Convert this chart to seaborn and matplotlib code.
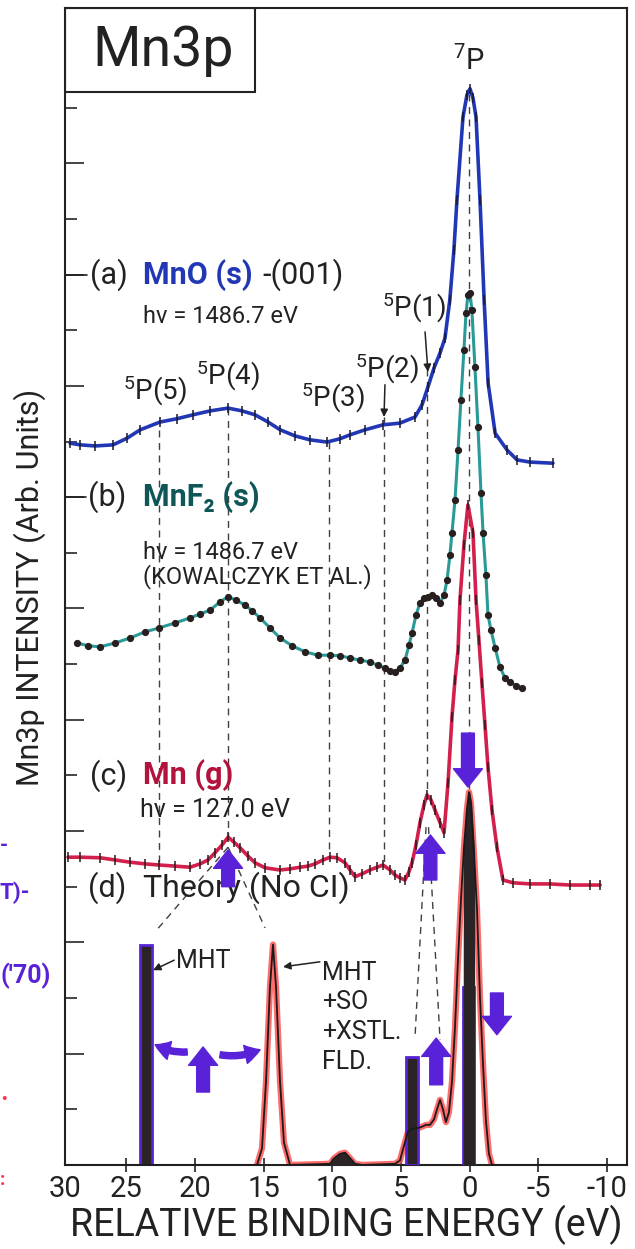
import matplotlib
matplotlib.use("Agg")
import matplotlib.pyplot as plt
import numpy as np
import seaborn as sns
from matplotlib.patches import Rectangle

sns.set_theme(style="ticks")
plt.rcParams['font.family'] = ['Roboto', 'DejaVu Sans']
plt.rcParams['mathtext.default'] = 'regular'

# (a) MnO(s)-(001), hv = 1486.7 eV
mno_ev = [29.08, 28.35, 27.26, 25.95, 24.93, 23.98, 22.53, 21.29, 20.13, 18.89,
          17.58, 16.56, 15.62, 14.67, 13.79, 12.70, 11.62, 10.38, 9.43, 8.70,
          7.61, 6.30, 5.07, 3.97, 3.46, 3.03, 2.59, 2.15, 1.79, 1.44,
          1.14, 0.92, 0.48, 0.19, -0.03, -0.25, -0.47, -0.76, -1.06, -1.35,
          -1.86, -2.72, -3.45, -4.40, -6.07]
mno_int = [12.97, 12.94, 12.92, 12.94, 13.06, 13.21, 13.35, 13.41, 13.48, 13.55,
           13.60, 13.55, 13.48, 13.35, 13.21, 13.10, 13.03, 12.99, 13.05, 13.12,
           13.21, 13.30, 13.33, 13.44, 13.66, 13.98, 14.32, 14.59, 14.86, 15.54,
           16.44, 17.34, 18.83, 19.23, 19.34, 19.17, 18.83, 17.34, 15.54, 14.05,
           13.15, 12.85, 12.67, 12.63, 12.61]

# (b) MnF2(s), hv = 1486.7 eV (Kowalczyk et al.)
mnf2_ev = [28.57, 27.77, 26.90, 25.80, 24.71, 23.62, 22.60, 21.44, 20.35, 19.62,
           18.89, 18.16, 17.58, 17.00, 16.34, 15.84, 15.25, 14.53, 13.80, 12.92,
           11.98, 11.03, 10.16, 9.43, 8.70, 7.98, 7.25, 6.67, 6.16, 5.79,
           5.43, 5.07, 4.70, 4.41, 4.19, 3.90, 3.61, 3.32, 3.03, 2.74,
           2.45, 2.15, 1.86, 1.64, 1.43, 1.28, 1.06, 0.84, 0.63, 0.41,
           0.26, 0.12, -0.03, -0.17, -0.39, -0.61, -0.83, -0.98, -1.19, -1.34,
           -1.56, -1.86, -2.21, -2.58, -2.95, -3.38, -3.81]
mnf2_int = [9.38, 9.33, 9.31, 9.38, 9.47, 9.58, 9.65, 9.74, 9.83, 9.90,
            9.97, 10.12, 10.21, 10.15, 10.06, 9.96, 9.83, 9.65, 9.47, 9.33,
            9.22, 9.16, 9.16, 9.15, 9.11, 9.07, 9.04, 8.98, 8.93, 8.88,
            8.86, 8.93, 9.07, 9.34, 9.56, 9.88, 10.10, 10.19, 10.21, 10.24,
            10.19, 10.10, 10.24, 10.51, 10.96, 11.36, 11.95, 12.85, 13.75, 14.65,
            15.31, 15.63, 15.67, 15.36, 14.34, 13.26, 12.08, 11.36, 10.60, 9.88,
            9.61, 9.29, 8.95, 8.75, 8.68, 8.61, 8.57]

# (c) Mn(g), hv = 127.0 eV
mng_ev = [29.23, 28.35, 26.90, 25.80, 24.71, 23.62, 22.60, 21.44, 20.35, 19.62,
          19.04, 18.53, 18.02, 17.58, 17.15, 16.71, 16.13, 15.62, 14.89, 13.80,
          13.07, 12.34, 11.76, 11.25, 10.67, 10.16, 9.65, 9.07, 8.70, 8.34,
          7.83, 7.25, 6.74, 6.30, 5.79, 5.43, 5.07, 4.70, 4.41, 4.19,
          3.90, 3.61, 3.32, 3.10, 2.81, 2.52, 2.15, 1.86, 1.57, 1.28,
          1.06, 0.84, 0.70, 0.41, 0.12, -0.25, -0.47, -0.68, -0.90, -1.12,
          -1.34, -1.63, -1.99, -2.43, -3.17, -4.40, -5.86, -7.31, -8.76, -9.50]
mng_int = [5.53, 5.53, 5.52, 5.48, 5.44, 5.41, 5.39, 5.37, 5.35, 5.41,
           5.48, 5.61, 5.75, 5.89, 5.80, 5.70, 5.55, 5.43, 5.34, 5.30,
           5.32, 5.35, 5.37, 5.41, 5.48, 5.53, 5.52, 5.43, 5.30, 5.18,
           5.23, 5.30, 5.35, 5.39, 5.30, 5.21, 5.16, 5.12, 5.27, 5.43,
           5.75, 6.15, 6.47, 6.65, 6.56, 6.38, 6.15, 5.97, 6.86, 8.05,
           8.72, 9.25, 10.15, 11.14, 11.86, 11.36, 10.15, 9.43, 8.66, 7.91,
           7.15, 6.38, 5.71, 5.12, 5.07, 5.05, 5.05, 5.03, 5.03, 5.03]

# (d) Theory (No CI): MHT+SO+XSTL. FLD. spectrum
theory_ev = [29.45, 15.47, 15.11, 14.82, 14.53, 14.31, 14.09, 13.80, 13.51, 13.07,
             10.16, 9.86, 9.43, 9.07, 8.70, 8.34, 7.83, 5.43, 5.07, 4.77,
             4.48, 4.19, 3.83, 3.54, 3.17, 2.88, 2.59, 2.37, 2.15, 1.94,
             1.72, 1.50, 1.28, 1.06, 0.84, 0.63, 0.41, 0.19, 0.04, -0.10,
             -0.32, -0.54, -0.76, -0.98, -1.19, -1.41, -1.63, -11.46]
theory_int = [0, 0, 0.3, 1.5, 3.2, 3.96, 3.2, 1.5, 0.4, 0,
              0.02, 0.12, 0.2, 0.22, 0.12, 0.02, 0, 0.02, 0.08, 0.35,
              0.6, 0.65, 0.66, 0.68, 0.72, 0.72, 0.82, 1.0, 1.17, 1.0,
              0.77, 0.95, 1.5, 2.48, 3.7, 4.75, 5.7, 6.4, 6.7, 6.5,
              5.6, 4.6, 3.0, 1.8, 0.8, 0.2, 0, 0]

# MHT multiplet lines (bars)
mht_ev = [23.55, 4.19, 0.08]
mht_int = [3.95, 1.94, 3.2]

# peak assignments (dashed guide lines)
p5_labels = ["(5)", "(4)", "(3)", "(2)", "(1)"]
p5_ev = [22.60, 17.58, 10.23, 6.23, 3.10]

xtick_pos = [29.45, 25, 20, 15, 10, 5, 0, -5, -10]
xtick_lab = ["30", "25", "20", "15", "10", "5", "0", "-5", "-10"]

BLUE = "#2237b5"
TEAL = "#2a9a98"
TEAL_TXT = "#0f5656"
CRIMSON = "#d21f4c"
CRIMSON_TXT = "#b3123c"
SALMON = "#ff5252"
DARK = "#2a2426"
PURPLE = "#5a22d8"
INK = "#222222"

fig = plt.figure(figsize=(6.35, 12.49), dpi=100)
ax = fig.add_axes([0.1024, 0.0673, 0.8850, 0.9263])
ax.set_xlim(29.45, -11.46)
ax.set_ylim(0, 20.79)

# dashed guide lines
dash = dict(color="0.25", lw=1.0, ls=(0, (5, 4)), zorder=1)
ax.plot([0.05, 0.05], [19.25, 6.75], **dash)
ax.plot([p5_ev[4]] * 2, [14.30, 6.65], **dash)
ax.plot([3.17, 3.97], [6.07, 2.30], **dash)
ax.plot([2.99, 2.15], [6.07, 2.25], **dash)
ax.plot([p5_ev[3]] * 2, [13.44, 5.43], **dash)
ax.plot([p5_ev[2]] * 2, [12.99, 5.61], **dash)
ax.plot([p5_ev[1]] * 2, [13.60, 5.89], **dash)
ax.plot([17.58, 22.89], [5.71, 4.19], **dash)
ax.plot([17.58, 14.89], [5.71, 4.26], **dash)
ax.plot([p5_ev[0]] * 2, [13.21, 5.43], **dash)

# theory (d)
ax.bar(mht_ev, mht_int, width=0.85, color=DARK, edgecolor=PURPLE, linewidth=2, zorder=3)
tev = np.array(theory_ev)
tin = np.array(theory_int)
ax.fill_between(tev, 0, tin, where=np.abs(tev - 0.05) < 0.45, color=DARK, zorder=3)
ax.fill_between(tev, 0, tin, where=(tev < 10.3) & (tev > 8.2), color=DARK, zorder=3)
# red highlight only over the peaks, not along the baseline
near_peak = (tin > 0) | (np.roll(tin, 1) > 0) | (np.roll(tin, -1) > 0)
red_y = np.where(near_peak, tin, np.nan)
ax.plot(tev, red_y, color=SALMON, lw=4.5, alpha=0.85, zorder=2)
sns.lineplot(x=theory_ev, y=theory_int, sort=False, color="k", lw=1.3, ax=ax, zorder=4)

# measured spectra
sns.lineplot(x=mno_ev, y=mno_int, sort=False, color=BLUE, lw=2.6, ax=ax, zorder=5)
ax.plot(mno_ev, mno_int, ls="none", marker="|", ms=7, mew=1.1, color="#1a1a2a", zorder=6)
sns.lineplot(x=mnf2_ev, y=mnf2_int, sort=False, color=TEAL, lw=2.2, ax=ax, zorder=5)
ax.plot(mnf2_ev, mnf2_int, ls="none", marker="o", ms=4.2, color="#2a1f1f", zorder=6)
sns.lineplot(x=mng_ev, y=mng_int, sort=False, color=CRIMSON, lw=2.6, ax=ax, zorder=5)
ax.plot(mng_ev, mng_int, ls="none", marker="|", ms=7, mew=1.1, color="#2a1a1a", zorder=6)

# purple hand-drawn arrows
def purple_arrow(x0, y0, x1, y1, thin=False, rad=0.0):
    if thin:
        style = "simple,head_length=0.5,head_width=0.6,tail_width=0.2"
    else:
        style = "simple,head_length=0.6,head_width=0.95,tail_width=0.42"
    ax.annotate("", xy=(x1, y1), xytext=(x0, y0),
                arrowprops=dict(arrowstyle=style, color=PURPLE, shrinkA=0, shrinkB=0,
                                mutation_scale=22, connectionstyle=f"arc3,rad={rad}"),
                zorder=7)

purple_arrow(0.12, 7.76, 0.12, 6.79)
purple_arrow(2.85, 5.12, 2.85, 5.93)
purple_arrow(17.58, 5.00, 17.58, 5.66)
purple_arrow(19.4, 1.31, 19.4, 2.12)
purple_arrow(20.56, 2.03, 22.89, 2.16, thin=True, rad=-0.15)
purple_arrow(18.16, 1.98, 15.25, 2.07, thin=True, rad=0.15)
purple_arrow(2.43, 1.44, 2.43, 2.28)
purple_arrow(-1.99, 3.09, -1.99, 2.34)

# black pointer arrows
def pointer(x0, y0, x1, y1):
    ax.annotate("", xy=(x1, y1), xytext=(x0, y0),
                arrowprops=dict(arrowstyle="-|>", color=INK, lw=1.1, shrinkA=0, shrinkB=0,
                                mutation_scale=11))

pointer(3.24, 14.97, 3.03, 14.25)
pointer(6.16, 14.02, 6.23, 13.44)
pointer(21.5, 3.68, 23.04, 3.50)
pointer(10.9, 3.65, 13.58, 3.56)

# text labels
ax.text(0.05, 19.85, "$^{7}$P", fontsize=21, ha="center", va="center", color=INK)
p5_text_xy = [(22.89, 13.91), (17.58, 14.18), (9.94, 13.78), (6.01, 14.30), (4.05, 15.40)]
for lab, (tx, ty) in zip(p5_labels, p5_text_xy):
    ax.text(tx, ty, "$^{5}$P" + lab, fontsize=20, ha="center", va="center", color=INK)

ax.plot([29.45, 27.85], [16, 16], color=INK, lw=1.2, clip_on=False)
ax.text(27.63, 16.0, "(a)", fontsize=22, ha="left", va="center", color=INK)
ax.text(23.76, 16.0, "MnO (s)", fontsize=22, ha="left", va="center", color=BLUE, fontweight="bold")
ax.text(15.11, 16.0, "-(001)", fontsize=22, ha="left", va="center", color=INK)
ax.text(23.76, 15.24, "hν = 1486.7 eV", fontsize=17, ha="left", va="center", color=INK)

ax.plot([29.45, 27.95], [12, 12], color=INK, lw=1.2, clip_on=False)
ax.text(27.77, 12.0, "(b)", fontsize=22, ha="left", va="center", color=INK)
ax.text(23.76, 12.0, "MnF₂ (s)", fontsize=22, ha="left", va="center", color=TEAL_TXT, fontweight="bold")
ax.text(23.76, 11.0, "hν = 1486.7 eV", fontsize=17, ha="left", va="center", color=INK)
ax.text(23.76, 10.58, "(KOWALCZYK ET AL.)", fontsize=17, ha="left", va="center", color=INK)

ax.text(27.63, 7.0, "(c)", fontsize=22, ha="left", va="center", color=INK)
ax.text(23.76, 7.0, "Mn (g)", fontsize=22, ha="left", va="center", color=CRIMSON_TXT, fontweight="bold")
ax.text(23.98, 6.38, "hν = 127.0 eV", fontsize=18, ha="left", va="center", color=INK)

ax.text(27.77, 4.98, "(d)", fontsize=22, ha="left", va="center", color=INK)
ax.text(23.76, 4.98, "Theory (No CI)", fontsize=23, ha="left", va="center", color=INK)

ax.text(21.4, 3.66, "MHT", fontsize=18, ha="left", va="center", color=INK)
ax.text(10.74, 3.67, "MHT\n+SO\n+XSTL.\nFLD.", fontsize=18, ha="left", va="top",
        color=INK, linespacing=1.3)

# title box
ax.add_patch(Rectangle((0, 0.927), 0.338, 0.073, transform=ax.transAxes, fill=False,
                       edgecolor=INK, lw=1.5, zorder=8))
ax.text(0.174, 0.963, "Mn3p", transform=ax.transAxes, fontsize=40, ha="center",
        va="center", color=INK)

# axes styling
ax.set_xticks(xtick_pos, xtick_lab)
ax.tick_params(axis="x", direction="inout", length=10, width=1.2, labelsize=21, pad=2,
               colors=INK)
ax.xaxis.get_major_ticks()[0].tick1line.set_visible(False)
ax.set_yticks(range(0, 19, 2))
ax.set_yticks(range(1, 20, 2), minor=True)
ax.tick_params(axis="y", which="major", direction="in", length=14, width=1.2, labelleft=False)
ax.tick_params(axis="y", which="minor", direction="in", length=8.5, width=1.2)
for sp in ax.spines.values():
    sp.set_linewidth(1.5)
    sp.set_color(INK)

fig.text(0.545, 0.019, "RELATIVE BINDING ENERGY (eV)", fontsize=27, ha="center",
         va="center", color=INK)
fig.text(0.047, 0.530, "Mn3p INTENSITY (Arb. Units)", fontsize=22, rotation=90,
         ha="center", va="center", color=INK)

# handwritten margin notes (cut off at page edge)
fig.text(0.0, 1 - 893 / 1249, "T)-", fontsize=16, fontweight="bold", color=PURPLE,
         ha="left", va="center")
fig.text(0.0, 1 - 976 / 1249, "('70)", fontsize=18, fontweight="bold", color=PURPLE,
         ha="left", va="center")
fig.text(0.0, 1 - 845 / 1249, "-", fontsize=15, fontweight="bold", color=PURPLE,
         ha="left", va="center")
fig.text(0.0, 1 - 1100 / 1249, "·", fontsize=18, fontweight="bold", color="#ff3355",
         ha="left", va="center")
fig.text(0.0, 1 - 1180 / 1249, ":", fontsize=14, fontweight="bold", color="#ff3355",
         ha="left", va="center")

fig.savefig("out.png", dpi=100)
